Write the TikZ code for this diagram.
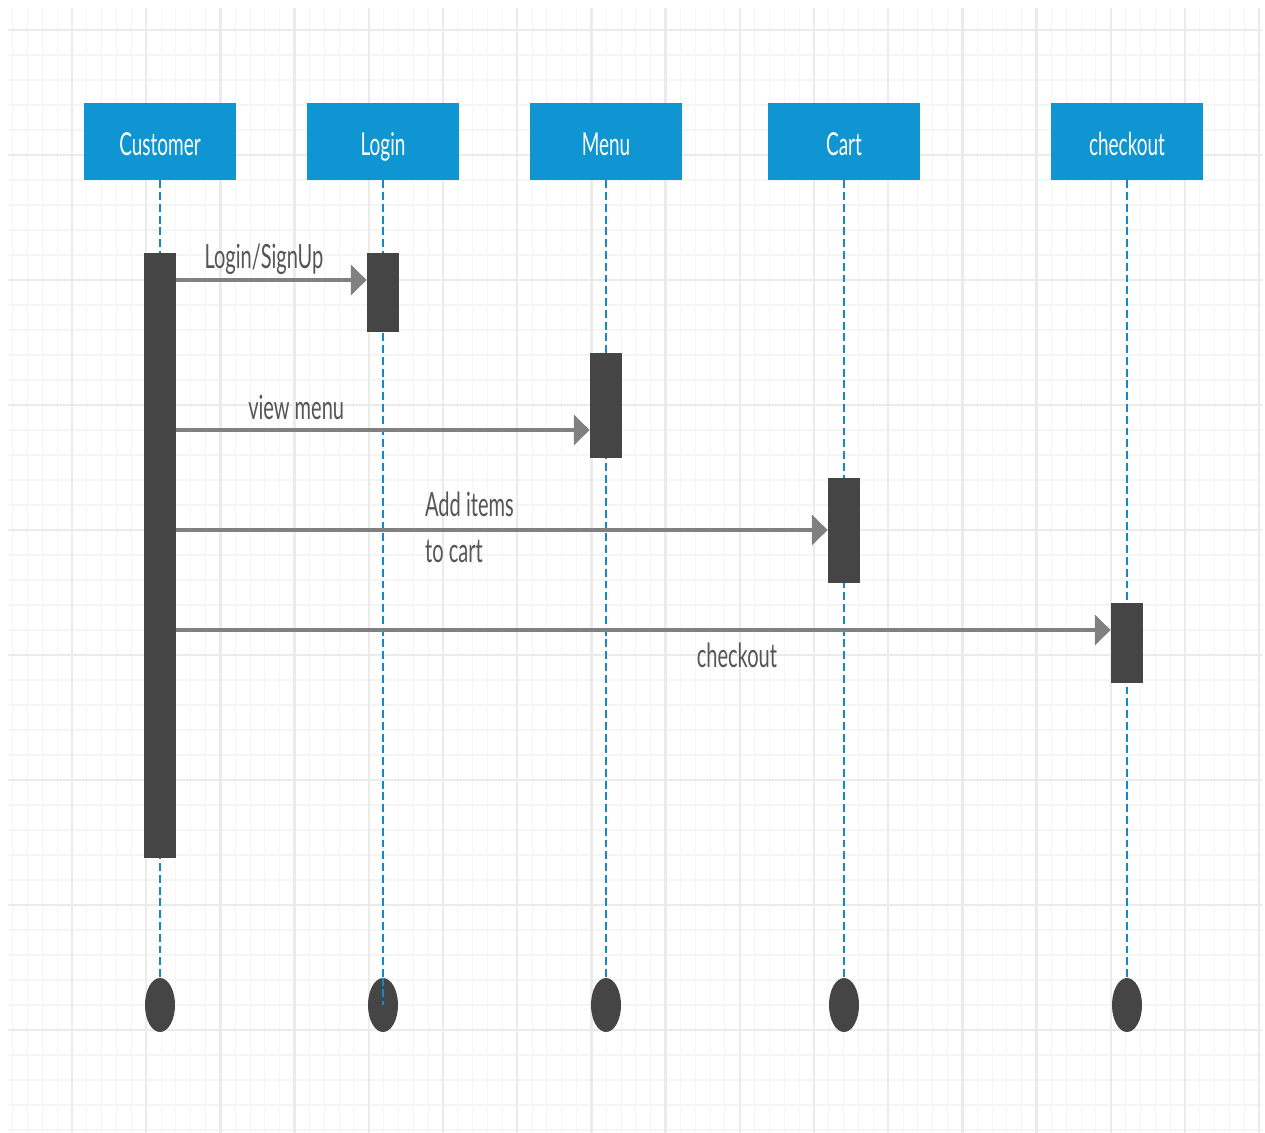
\documentclass[tikz,border=0pt]{standalone}
\usepackage{fontspec}
\setmainfont{Lato}[FakeStretch=0.6]
\usetikzlibrary{positioning, arrows.meta, shapes.geometric, calc}
\definecolor{headc}{HTML}{0E95D2}
\definecolor{lifec}{HTML}{1588C6}
\definecolor{barc}{HTML}{454545}
\definecolor{msgc}{HTML}{808080}
\definecolor{txtc}{HTML}{555555}
\definecolor{gridA}{HTML}{EBEBEB}
\definecolor{gridB}{HTML}{F5F5F5}

\begin{document}
\begin{tikzpicture}[
  x=0.02cm, y=-0.02cm,
  head/.style={rectangle, fill=headc, minimum width=3.04cm, minimum height=1.54cm,
               inner sep=0pt, text height=15.4pt, text depth=0pt,
               text=white, font=\fontsize{18}{20}\selectfont},
  bar/.style={rectangle, fill=barc, minimum width=0.64cm, inner sep=0pt},
  life/.style={draw=lifec, line width=1.3pt, dash pattern=on 4.5pt off 2.2pt},
  endpt/.style={ellipse, fill=barc, minimum width=0.6cm, minimum height=1.08cm, inner sep=0pt},
  arr/.style={-{Triangle[length=9pt, width=17pt]}, line width=2.2pt, draw=msgc},
  lbl/.style={text=txtc, font=\fontsize{19}{26.6}\selectfont, inner sep=0pt}
]
\useasboundingbox (0,0) rectangle (1265,1133);
\fill[white] (0,0) rectangle (1265,1133);

% grid
\foreach \i in {0,...,84}
  \draw[gridB, line width=0.6pt] (12.64+\i*14.84,8) -- (12.64+\i*14.84,1133);
\foreach \j in {0,...,44}
  \draw[gridB, line width=0.6pt] (8,30+\j*25) -- (1262,30+\j*25);
\foreach \i in {0,...,16}
  \draw[gridA, line width=1.3pt] (72+\i*74.2,8) -- (72+\i*74.2,1133);
\foreach \j in {0,...,8}
  \draw[gridA, line width=1.3pt] (8,30+\j*125) -- (1262,30+\j*125);

% lifeline heads
\node[head] (cust)  at (160,141.5)  {Customer};
\node[head] (login) at (383,141.5)  {Login};
\node[head] (menu)  at (606,141.5)  {Menu};
\node[head] (cart)  at (844,141.5)  {Cart};
\node[head] (chk)   at (1127,141.5) {checkout};

% end points
\node[endpt] (cust-end)  at (160,1005)  {};
\node[endpt] (login-end) at (383,1005)  {};
\node[endpt] (menu-end)  at (606,1005)  {};
\node[endpt] (cart-end)  at (844,1005)  {};
\node[endpt] (chk-end)   at (1127,1005) {};

\foreach \n in {cust, login, menu, cart, chk}
  \draw[life] (\n.south) -- (\n-end.north);
\draw[life] (login-end.north) -- (login-end.center);

% activations
\node[bar, minimum height=12.1cm] (cbar) at (160,555.5) {};
\node[bar, minimum height=1.58cm] (lbar) at (383,292.5) {};
\node[bar, minimum height=2.1cm]  (mbar) at (606,405.5) {};
\node[bar, minimum height=2.1cm]  (kbar) at (844,530.5) {};
\node[bar, minimum height=1.6cm]  (obar) at (1127,643)  {};

% messages
\draw[arr] (cbar.east |- 0,280) -- node[lbl, anchor=base, yshift=6.5pt, pos=0.46] {Login/SignUp} (lbar.west |- 0,280);
\draw[arr] (cbar.east |- 0,430) -- node[lbl, anchor=base, yshift=5.7pt, pos=0.29] {view menu} (mbar.west |- 0,430);
\draw[arr] (cbar.east |- 0,530) -- node[lbl, align=left, yshift=1.5pt, pos=0.45] {Add items\\to cart} (kbar.west |- 0,530);
\draw[arr] (cbar.east |- 0,630) -- node[lbl, anchor=base, yshift=-21.5pt, pos=0.6] {checkout} (obar.west |- 0,630);
\end{tikzpicture}
\end{document}
